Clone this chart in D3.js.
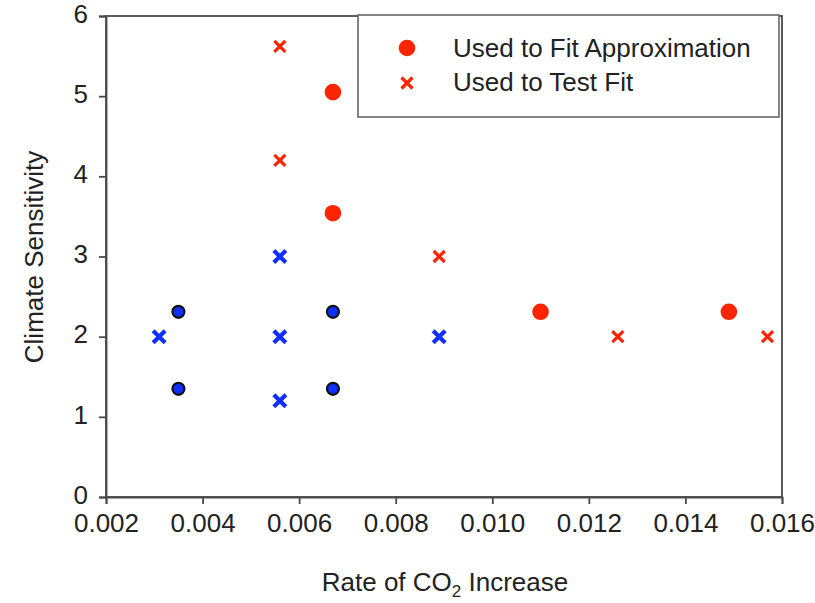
<!DOCTYPE html>
<html>
<head>
<meta charset="utf-8">
<script src="https://cdn.jsdelivr.net/npm/d3@7"></script>
<style>
  html, body { margin: 0; padding: 0; background: #fff; }
  svg { display: block; font-family: Arial, "Liberation Sans", Helvetica, sans-serif; }
</style>
</head>
<body>
<svg id="chart" width="815" height="603"></svg>
<script>
// Climate sensitivity vs. rate of CO2 increase
const xTicks = [0.002, 0.004, 0.006, 0.008, 0.010, 0.012, 0.014, 0.016];
const yTicks = [0, 1, 2, 3, 4, 5, 6];

// Red: points outside the sampled region
const fitRedX  = [0.0067, 0.0067, 0.0110, 0.0149];
const fitRedY  = [5.05, 3.54, 2.31, 2.31];
const testRedX = [0.0056, 0.0056, 0.0089, 0.0126, 0.0157];
const testRedY = [5.62, 4.20, 3.00, 2.00, 2.00];

// Blue: points inside the sampled region
const fitBlueX  = [0.0035, 0.0035, 0.0067, 0.0067];
const fitBlueY  = [2.31, 1.35, 2.31, 1.35];
const testBlueX = [0.0031, 0.0056, 0.0056, 0.0056, 0.0089];
const testBlueY = [2.00, 3.00, 2.00, 1.20, 2.00];

const legendLabels = ["Used to Fit Approximation", "Used to Test Fit"];

const RED = "#ff2400", BLUE = "#1030ff";
const FONT = 26;
const svg = d3.select("#chart");
const plotLeft = 106, plotRight = 782, plotTop = 16, plotBottom = 497;

const x = d3.scaleLinear().domain([0.002, 0.016]).range([plotLeft, plotRight]);
const y = d3.scaleLinear().domain([0, 6]).range([plotBottom, plotTop]);

const zip = (xs, ys) => xs.map((v, i) => ({ x: v, y: ys[i] }));

// plot frame
svg.append("rect")
  .attr("x", plotLeft).attr("y", plotTop)
  .attr("width", plotRight - plotLeft).attr("height", plotBottom - plotTop)
  .attr("fill", "none").attr("stroke", "#4a4a4a").attr("stroke-width", 1.8);

// axes
const xAxis = svg.append("g").attr("transform", `translate(0,${plotBottom})`)
  .call(d3.axisBottom(x).tickValues(xTicks).tickFormat(d3.format(".3f")).tickSize(7).tickPadding(10));
const yAxis = svg.append("g").attr("transform", `translate(${plotLeft},0)`)
  .call(d3.axisLeft(y).tickValues(yTicks).tickFormat(d3.format("d")).tickSize(7).tickPadding(11));
[xAxis, yAxis].forEach(g => {
  g.select(".domain").attr("stroke", "#4a4a4a").attr("stroke-width", 1.8);
  g.selectAll(".tick line").attr("stroke", "#4a4a4a").attr("stroke-width", 1.8);
  g.selectAll(".tick text").attr("font-size", FONT).attr("fill", "#222")
    .attr("font-family", "Arial, 'Liberation Sans', sans-serif");
});
// lift the value labels slightly so the "0" clears the first x label
yAxis.selectAll(".tick text").attr("dy", "0.24em");

// axis titles
svg.append("text")
  .attr("transform", `translate(43,257) rotate(-90)`)
  .attr("text-anchor", "middle").attr("font-size", FONT).attr("fill", "#222")
  .text("Climate Sensitivity");
const xt = svg.append("text")
  .attr("x", 445).attr("y", 591)
  .attr("text-anchor", "middle").attr("font-size", FONT).attr("fill", "#222");
xt.append("tspan").text("Rate of CO");
xt.append("tspan").attr("font-size", 17).attr("dy", 6).text("2");
xt.append("tspan").attr("dy", -6).text(" Increase");

// cross marker path
function crossPath(h) {
  return `M${-h},${-h}L${h},${h}M${-h},${h}L${h},${-h}`;
}

const plot = svg.append("g");

// red fit circles
plot.selectAll(".fitRed").data(zip(fitRedX, fitRedY)).join("circle")
  .attr("cx", d => x(d.x)).attr("cy", d => y(d.y)).attr("r", 8.3)
  .attr("fill", RED);

// red test crosses
plot.selectAll(".testRed").data(zip(testRedX, testRedY)).join("path")
  .attr("transform", d => `translate(${x(d.x)},${y(d.y)})`)
  .attr("d", crossPath(5.5))
  .attr("stroke", RED).attr("stroke-width", 3.2).attr("fill", "none");

// blue fit circles
plot.selectAll(".fitBlue").data(zip(fitBlueX, fitBlueY)).join("circle")
  .attr("cx", d => x(d.x)).attr("cy", d => y(d.y)).attr("r", 6)
  .attr("fill", BLUE).attr("stroke", "#111").attr("stroke-width", 2.2);

// blue test crosses
plot.selectAll(".testBlue").data(zip(testBlueX, testBlueY)).join("path")
  .attr("transform", d => `translate(${x(d.x)},${y(d.y)})`)
  .attr("d", crossPath(6))
  .attr("stroke", BLUE).attr("stroke-width", 4.2).attr("fill", "none");

// legend
const lg = svg.append("g");
lg.append("rect").attr("x", 358).attr("y", 15).attr("width", 421).attr("height", 102)
  .attr("fill", "#fff").attr("stroke", "#666").attr("stroke-width", 1.6);
lg.append("circle").attr("cx", 407).attr("cy", 48).attr("r", 8.3).attr("fill", RED);
lg.append("path").attr("transform", "translate(407,83)").attr("d", crossPath(5.5))
  .attr("stroke", RED).attr("stroke-width", 3.2).attr("fill", "none");
lg.selectAll(".lbl").data(legendLabels).join("text")
  .attr("x", 453).attr("y", (d, i) => 57 + i * 34)
  .attr("font-size", FONT).attr("fill", "#222").text(d => d);
</script>
</body>
</html>
